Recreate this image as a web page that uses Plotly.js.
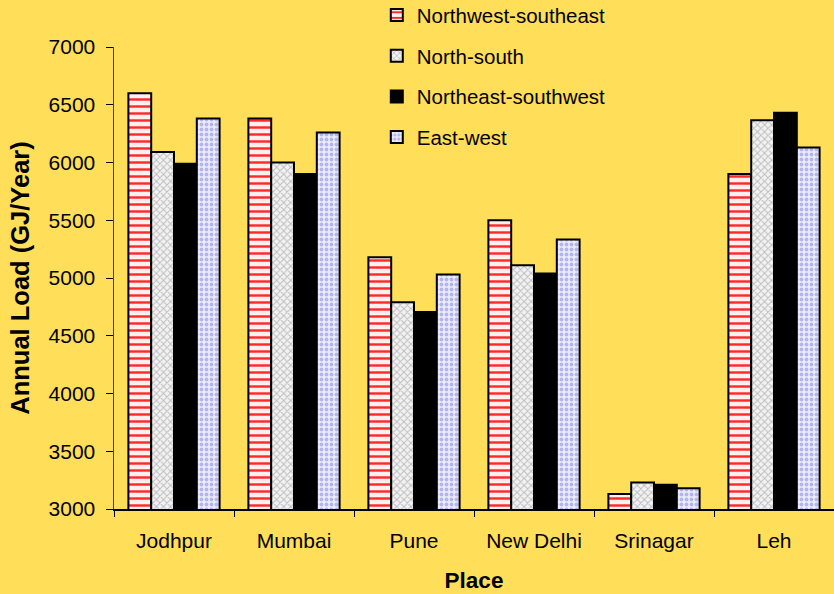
<!DOCTYPE html>
<html>
<head>
<meta charset="utf-8">
<script src="https://cdn.plot.ly/plotly-3.0.1.min.js"></script>
<style>html,body{margin:0;padding:0;background:#FFDE59;}</style>
</head>
<body>
<div id="chart" style="width:834px;height:594px;"></div>
<script>
const places = ["Jodhpur", "Mumbai", "Pune", "New Delhi", "Srinagar", "Leh"];
const seriesNames = ["Northwest-southeast", "North-south", "Northeast-southwest", "East-west"];
const nwSe = [6600, 6380, 5180, 5500, 3130, 5900];
const nS = [6090, 6000, 4790, 5110, 3230, 6365];
const neSw = [5990, 5900, 4705, 5040, 3210, 6430];
const eW = [6380, 6260, 5030, 5333, 3180, 6130];
const yTicks = [3000, 3500, 4000, 4500, 5000, 5500, 6000, 6500, 7000];

const patterns = [
  {shape: "-", fgcolor: "#FF2A2A", bgcolor: "#FFF0F0", size: 7, solidity: 0.35},
  {shape: "x", fgcolor: "#BDBDBD", bgcolor: "#F2F2F2", size: 5, solidity: 0.35},
  null,
  {shape: ".", fgcolor: "#B4B4EE", bgcolor: "#ECECFC", size: 5, solidity: 0.45}
];
const fills = ["#FFFFFF", "#EEEEEE", "#000000", "#E4E4FA"];
const allVals = [nwSe, nS, neSw, eW];

const traces = allVals.map((vals, i) => {
  const m = {color: fills[i], line: {color: "#000000", width: 2}};
  if (patterns[i]) m.pattern = patterns[i];
  return {
    type: "bar", x: places, y: vals, name: seriesNames[i],
    legendgroup: "g" + i, marker: m
  };
});

const layout = {
  width: 834, height: 594,
  paper_bgcolor: "#FFDE59", plot_bgcolor: "#FFDE59",
  margin: {l: 114, r: 0, t: 47, b: 85, autoexpand: false},
  barmode: "group", bargap: 0.24, bargroupgap: 0,
  font: {family: "Liberation Sans, Arial, sans-serif", color: "#000000"},
  showlegend: true,
  legend: {
    x: 0.365, xanchor: "left", y: 1.112, yanchor: "top",
    bgcolor: "rgba(0,0,0,0)", font: {size: 20.5, color: "#000000"},
    tracegroupgap: 11, traceorder: "grouped"
  },
  xaxis: {
    type: "category", showline: true, linecolor: "#000000", linewidth: 1.5,
    ticks: "outside", tickson: "boundaries", ticklen: 6, tickcolor: "#000000",
    tickfont: {size: 21}, showgrid: false, zeroline: false, ticklabelstandoff: 12,
    title: {text: "<b>Place</b>", font: {size: 22.5}, standoff: 21}
  },
  yaxis: {
    range: [3000, 7000], tickvals: yTicks, showline: true, linecolor: "#404040", linewidth: 1.5,
    ticks: "outside", ticklen: 7, tickcolor: "#000000", tickfont: {size: 21},
    showgrid: false, zeroline: false, ticklabelstandoff: 6,
    title: {text: "<b>Annual Load (GJ/Year)</b>", font: {size: 25.5}, standoff: 11}
  }
};

Plotly.newPlot("chart", traces, layout, {displayModeBar: false, staticPlot: true});
</script>
</body>
</html>
